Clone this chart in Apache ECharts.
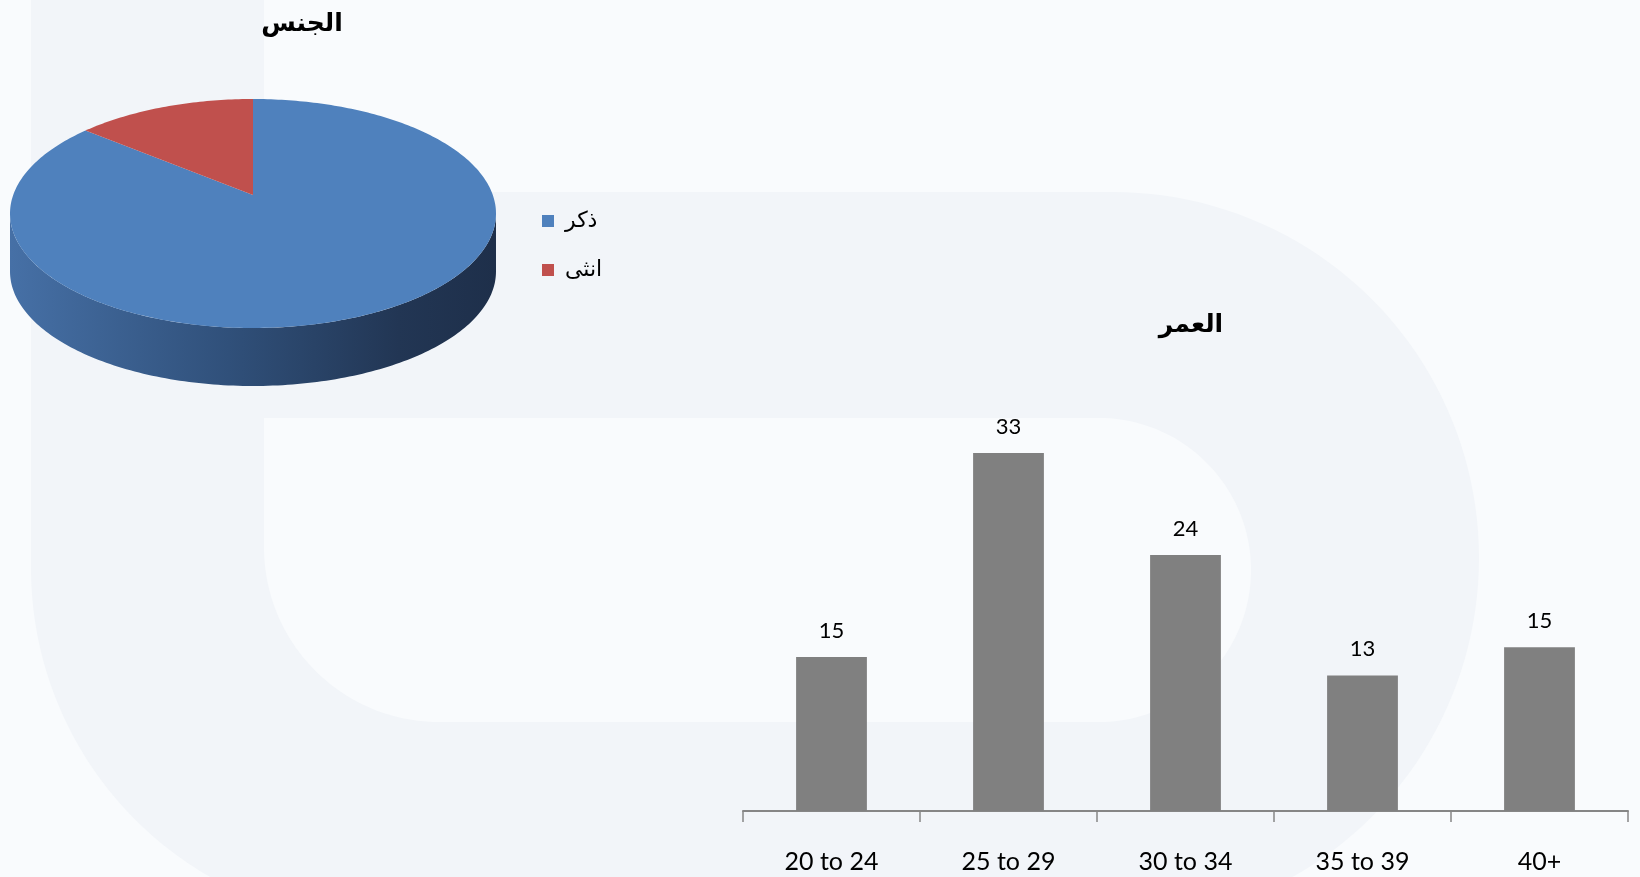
<!DOCTYPE html>
<html>
<head>
<meta charset="utf-8">
<script src="https://cdn.jsdelivr.net/npm/echarts@6/dist/echarts.min.js"></script>
<style>
  html, body { margin: 0; padding: 0; background: #f9fbfd; }
  #main { width: 1640px; height: 877px; }
</style>
</head>
<body>
<div id="main"></div>
<script>
// ---- data ----
const sexNames = ['ذكر', 'انثى'];
const sexValues = [86, 14];
const sexColors = ['#4f81bd', '#c0504d'];

const ageCategories = ['20 to 24', '25 to 29', '30 to 34', '35 to 39', '40+'];
const ageValues = [14.2, 33, 23.6, 12.5, 15.1];
const ageLabels = ['15', '33', '24', '13', '15'];

const titleSex = 'الجنس';
const titleAge = 'العمر';

// ---- 3D pie geometry (perspective projection of a disc) ----
const PIE = { cx: 253, cy: 195, s: 239.8, h: 111.5, k: -0.1616, depth: 58 };
function proj(alphaDeg, dy) {
  const a = alphaDeg * Math.PI / 180;
  const u = Math.sin(a), v = -Math.cos(a);
  const d = 1 + PIE.k * v;
  return [PIE.cx + PIE.s * u / d, PIE.cy + PIE.h * v / d + (dy || 0)];
}
function arcPoints(a0, a1, dy) {
  const pts = [];
  const n = Math.max(2, Math.ceil(Math.abs(a1 - a0)));
  for (let i = 0; i <= n; i++) pts.push(proj(a0 + (a1 - a0) * i / n, dy));
  return pts;
}
const total = sexValues.reduce((a, b) => a + b, 0);
const startAngles = [];
(function () { let acc = 0; sexValues.forEach(v => { startAngles.push(acc); acc += v / total * 360; }); })();
const wallFrom = 90 + Math.asin(-PIE.k) * 180 / Math.PI;
const wallTo = 270 - Math.asin(-PIE.k) * 180 / Math.PI;

function makePieRender(idx) {
  return function (params, api) {
    const a0 = startAngles[idx];
    const a1 = a0 + sexValues[idx] / total * 360;
    const children = [];
    const w0 = Math.max(a0, wallFrom), w1 = Math.min(a1, wallTo);
    if (w1 > w0) {
      const top = arcPoints(w0, w1, 0);
      const bottom = arcPoints(w1, w0, PIE.depth);
      children.push({
        type: 'polygon',
        shape: { points: top.concat(bottom) },
        style: {
          fill: new echarts.graphic.LinearGradient(0, 0, 1, 0, [
            { offset: 0, color: '#4670a6' },
            { offset: 0.45, color: '#30507a' },
            { offset: 0.8, color: '#223654' },
            { offset: 1, color: '#1e2f4a' }
          ])
        }
      });
    }
    children.push({
      type: 'polygon',
      shape: { points: [[PIE.cx, PIE.cy]].concat(arcPoints(a0, a1, 0)) },
      style: { fill: sexColors[idx] }
    });
    return { type: 'group', children: children };
  };
}

// ---- background watermark outline helper ----
function circArc(cx, cy, r, d0, d1) {
  const pts = [];
  const n = 90;
  for (let i = 0; i <= n; i++) {
    const t = (d0 + (d1 - d0) * i / n) * Math.PI / 180;
    pts.push([cx + r * Math.cos(t), cy + r * Math.sin(t)]);
  }
  return pts;
}
const outerShape = [[31, -5], [264, -5], [264, 192]]
  .concat(circArc(1113, 558, 366, -90, 90))
  .concat(circArc(387, 568, 356, 90, 180));
const innerShape = [[264, 418]]
  .concat(circArc(1099, 570, 152, -90, 90))
  .concat(circArc(439, 547, 175, 90, 180));

const chart = echarts.init(document.getElementById('main'));
const arabicFont = '"DejaVu Sans", sans-serif';

const option = {
  backgroundColor: '#f9fbfd',
  animation: false,
  graphic: [
    { type: 'polygon', z: -10, silent: true, shape: { points: outerShape }, style: { fill: '#f2f5f9' } },
    { type: 'polygon', z: -9, silent: true, shape: { points: innerShape }, style: { fill: '#f9fbfd' } }
  ],
  title: [
    { text: titleSex, left: 297, top: 7, textAlign: 'center',
      textStyle: { fontSize: 25, fontWeight: 'bold', fontFamily: arabicFont, color: '#000' } },
    { text: titleAge, left: 1186, top: 308, textAlign: 'center',
      textStyle: { fontSize: 25, fontWeight: 'bold', fontFamily: arabicFont, color: '#000' } }
  ],
  legend: {
    data: sexNames.map((n, i) => ({ name: n, itemStyle: { color: sexColors[i] } })),
    orient: 'vertical', left: 537, top: 205, itemGap: 27,
    itemWidth: 12, itemHeight: 12, icon: 'rect',
    textStyle: { fontSize: 22, fontFamily: arabicFont, color: '#000', padding: [0, 0, 0, 6] }
  },
  grid: { left: 743, right: 12, top: 377, bottom: 66 },
  xAxis: {
    type: 'category', data: ageCategories,
    axisLine: { show: true, lineStyle: { color: '#868686', width: 2 } },
    axisTick: { show: true, alignWithLabel: false, interval: 0, inside: false, length: 11,
      lineStyle: { color: '#868686', width: 1.5 } },
    axisLabel: { margin: 38, fontSize: 25, fontFamily: 'Lato', color: '#000' }
  },
  yAxis: { type: 'value', min: 0, max: 40, show: false, splitLine: { show: false } },
  series: [
    {
      name: sexNames[0], type: 'custom', coordinateSystem: 'none',
      itemStyle: { color: sexColors[0] }, data: [sexValues[0]], renderItem: makePieRender(0)
    },
    {
      name: sexNames[1], type: 'custom', coordinateSystem: 'none',
      itemStyle: { color: sexColors[1] }, data: [sexValues[1]], renderItem: makePieRender(1)
    },
    {
      name: titleAge, type: 'bar', data: ageValues, barWidth: '40%',
      itemStyle: { color: '#808080' },
      label: {
        show: true, position: 'top', distance: 15,
        fontSize: 22, fontFamily: 'Lato', color: '#000',
        formatter: p => ageLabels[p.dataIndex]
      }
    }
  ]
};
chart.setOption(option);
</script>
</body>
</html>
